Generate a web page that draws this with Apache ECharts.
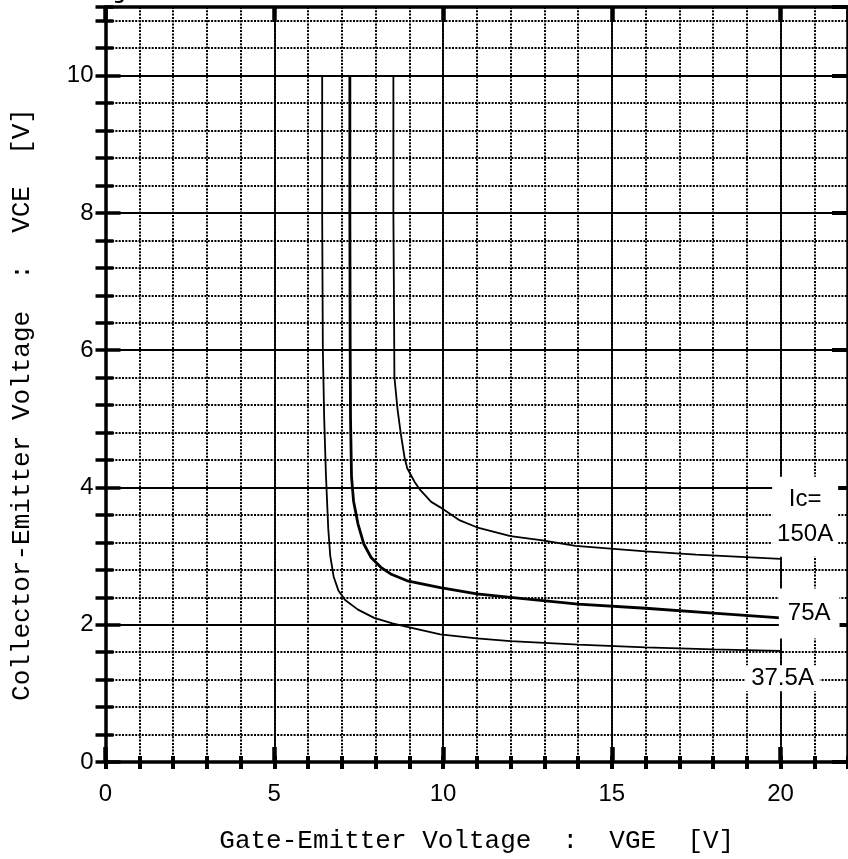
<!DOCTYPE html>
<html>
<head>
<meta charset="utf-8">
<script src="https://cdn.jsdelivr.net/npm/echarts@6/dist/echarts.min.js"></script>
<style>
  html, body { margin: 0; padding: 0; background: #fff; }
  #chart { width: 848px; height: 859px; }
</style>
</head>
<body>
<div id="chart"></div>
<script>
// VCE vs VGE characteristic, Tj = 25 °C
const vge_37 = [6.42, 6.42, 6.44, 6.48, 6.53, 6.60, 6.66, 6.76, 6.90, 7.10, 7.48, 7.96, 8.50, 8.94, 9.92, 11.0, 12.0, 14.0, 16.0, 18.0, 20.0];
const vce_37 = [10.0, 8.00, 6.00, 5.00, 4.20, 3.40, 3.00, 2.70, 2.50, 2.36, 2.22, 2.10, 2.02, 1.97, 1.86, 1.80, 1.76, 1.71, 1.67, 1.64, 1.62];

const vge_75 = [7.24, 7.24, 7.25, 7.26, 7.29, 7.35, 7.48, 7.65, 7.87, 8.15, 8.45, 8.94, 9.92, 11.0, 12.0, 14.0, 16.0, 18.0, 20.0];
const vce_75 = [10.0, 8.00, 6.00, 5.00, 4.15, 3.80, 3.47, 3.18, 2.98, 2.84, 2.74, 2.64, 2.54, 2.45, 2.40, 2.30, 2.24, 2.17, 2.10];

const vge_150 = [8.53, 8.53, 8.55, 8.56, 8.65, 8.75, 8.86, 8.94, 9.16, 9.33, 9.65, 9.92, 10.5, 11.0, 12.0, 12.95, 13.93, 16.0, 17.5, 20.0];
const vce_150 = [10.0, 8.00, 6.50, 5.61, 5.15, 4.78, 4.44, 4.28, 4.08, 3.96, 3.79, 3.71, 3.52, 3.42, 3.29, 3.23, 3.15, 3.07, 3.02, 2.96];

const xTickLabels = ['0', '5', '10', '15', '20'];
const yTickLabels = ['0', '2', '4', '6', '8', '10'];
const curveNames = ['37.5A', '75A', '150A'];

const zip = (xs, ys) => xs.map((x, i) => [x, ys[i]]);

const X_MIN = 0, X_MAX = 22, Y_MIN = 0, Y_MAX = 11;
const INK = '#000';
const MONO = '"Liberation Mono", "DejaVu Sans Mono", monospace';
const SANS = '"Liberation Sans", Arial, sans-serif';

const dotted = { color: INK, width: 2, type: [2, 1.3] };
const solid = { color: INK, width: 1.8, type: 'solid' };

function xAx(opts) {
  return Object.assign({
    type: 'value', min: X_MIN, max: X_MAX, position: 'bottom',
    axisLine: { show: false },
    axisTick: { show: false },
    axisLabel: { show: false },
    splitLine: { show: false }
  }, opts);
}
function yAx(opts) {
  return Object.assign({
    type: 'value', min: Y_MIN, max: Y_MAX, position: 'left',
    axisLine: { show: false },
    axisTick: { show: false },
    axisLabel: { show: false },
    splitLine: { show: false }
  }, opts);
}

const chart = echarts.init(document.getElementById('chart'), null, { renderer: 'canvas' });

const labelStyle = {
  show: true,
  color: INK,
  fontFamily: SANS,
  fontSize: 24,
  backgroundColor: '#fff',
  align: 'center',
  verticalAlign: 'middle',
  position: 'inside'
};

chart.setOption({
  animation: false,
  backgroundColor: '#fff',
  grid: { left: 105.5, right: -5, top: 7, bottom: 95, containLabel: false },
  graphic: [{
    type: 'text', left: 98, top: -22,
    style: { text: 'Tj=25°C', font: '26px ' + MONO, fill: INK }
  }],
  xAxis: [
    // bottom: major ticks, labels, solid grid
    xAx({
      interval: 5,
      axisLine: { show: true, onZero: false, lineStyle: { color: INK, width: 3.5 } },
      axisTick: { show: true, inside: true, length: 15, lineStyle: { color: INK, width: 4.5 } },
      axisLabel: {
        show: true, margin: 20, color: INK, fontFamily: SANS, fontSize: 24,
        showMaxLabel: false,
        formatter: v => xTickLabels.includes(String(v)) ? String(v) : ''
      },
      splitLine: { show: true, lineStyle: solid },
      name: 'Gate-Emitter Voltage  :  VGE  [V]',
      nameLocation: 'middle', nameGap: 66,
      nameTextStyle: { color: INK, fontFamily: MONO, fontSize: 26 }
    }),
    // bottom: minor ticks, dotted grid
    xAx({
      interval: 1,
      axisTick: { show: true, inside: true, length: 6, lineStyle: { color: INK, width: 4 } },
      splitLine: { show: true, lineStyle: dotted }
    }),
    // top frame
    xAx({
      position: 'top', interval: 5,
      axisLine: { show: true, onZero: false, lineStyle: { color: INK, width: 3.5 } },
      axisTick: { show: true, inside: true, length: 15, lineStyle: { color: INK, width: 4.5 } }
    }),
    xAx({
      position: 'top', interval: 1,
      axisTick: { show: true, inside: true, length: 7, lineStyle: { color: INK, width: 4 } }
    })
  ],
  yAxis: [
    // left: major ticks, labels, solid grid
    yAx({
      interval: 2,
      axisLine: { show: true, onZero: false, lineStyle: { color: INK, width: 3.5 } },
      axisTick: { show: true, inside: true, length: 15, lineStyle: { color: INK, width: 3.5 } },
      axisLabel: {
        show: true, margin: 12, color: INK, fontFamily: SANS, fontSize: 24,
        showMaxLabel: false,
        formatter: v => yTickLabels.includes(String(v)) ? String(v) : ''
      },
      splitLine: { show: true, lineStyle: solid },
      name: 'Collector-Emitter Voltage  :  VCE  [V]',
      nameLocation: 'middle', nameGap: 70,
      nameTextStyle: { color: INK, fontFamily: MONO, fontSize: 26, padding: [0, 40, 0, 0] }
    }),
    // left: minor ticks, dotted grid
    yAx({
      interval: 0.4,
      axisTick: { show: true, inside: true, length: 8, lineStyle: { color: INK, width: 3.5 } },
      splitLine: { show: true, lineStyle: dotted }
    }),
    // right frame
    yAx({
      position: 'right', interval: 2,
      axisLine: { show: true, onZero: false, lineStyle: { color: INK, width: 3.5 } },
      axisTick: { show: true, inside: true, length: 16, lineStyle: { color: INK, width: 4 } }
    }),
    yAx({
      position: 'right', interval: 0.4,
      axisTick: { show: true, inside: true, length: 10, lineStyle: { color: INK, width: 3.5 } }
    })
  ],
  series: [
    {
      name: curveNames[0], type: 'line', showSymbol: false, symbol: 'none',
      data: zip(vge_37, vce_37), lineStyle: { color: INK, width: 1.8 }, z: 5
    },
    {
      name: curveNames[1], type: 'line', showSymbol: false, symbol: 'none',
      data: zip(vge_75, vce_75), lineStyle: { color: INK, width: 2.8 }, z: 5
    },
    {
      name: curveNames[2], type: 'line', showSymbol: false, symbol: 'none',
      data: zip(vge_150, vce_150), lineStyle: { color: INK, width: 1.8 }, z: 5
    },
    {
      // curve tags at the right edge, on white plates drawn in an upper layer
      type: 'scatter', symbolSize: 0, silent: true, z: 10, zlevel: 1,
      itemStyle: { opacity: 1 },
      emphasis: { disabled: true },
      data: [
        { value: [20.73, 3.575], label: Object.assign({}, labelStyle, {
            formatter: 'Ic=\n' + curveNames[2], lineHeight: 35, padding: [5, 5] }) },
        { value: [20.85, 2.165], label: Object.assign({}, labelStyle, {
            formatter: curveNames[1], padding: [13, 9] }) },
        { value: [20.06, 1.22], label: Object.assign({}, labelStyle, {
            formatter: curveNames[0], padding: [1, 6] }) }
      ]
    }
  ]
});
</script>
</body>
</html>
